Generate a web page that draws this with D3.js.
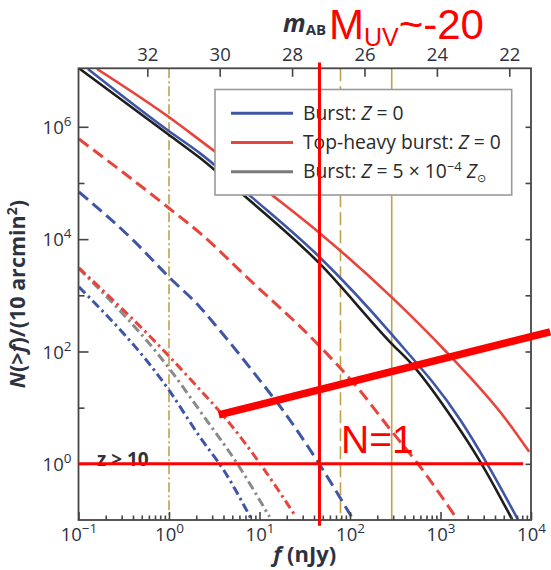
<!DOCTYPE html>
<html><head><meta charset="utf-8">
<script src="https://cdn.jsdelivr.net/npm/d3@7"></script>
<style>body{margin:0;background:#fff} svg{display:block}</style>
</head><body>
<script>
// ---------- data ----------
const fluxTicks = [0.1, 1, 10, 100, 1000, 10000];          // nJy
const countTicks = [1, 10, 100, 1e3, 1e4, 1e5, 1e6];
const countLabels = [1, 100, 1e4, 1e6];
const magTicks = [32, 30, 28, 26, 24, 22];                  // m_AB
const magZeroPoint = 31.4;                                  // m_AB of 1 nJy

// solid curves
const burstZ0_f   = [0.127, 0.995, 2.19, 8.2, 46, 286, 1650, 3280, 7210];
const burstZ0_N   = [1.07e7, 8.4e5, 3.4e5, 5.6e4, 4.8e3, 205, 6.1, 1.0, 0.10];
const topHeavy_f  = [0.16, 0.995, 2.19, 14.7, 46, 286, 1190, 5320, 9550];
const topHeavy_N  = [1.07e7, 1.49e6, 5.8e5, 5.6e4, 1.29e4, 937, 94, 6.1, 1.64];
const burstZ5_f   = [0.101, 0.995, 2.19, 6.5, 46, 286, 489, 1384, 2840, 6240];
const burstZ5_N   = [1.1e7, 7.2e5, 2.8e5, 6.3e4, 3.7e3, 140, 58, 6.1, 1.0, 0.10];
// dashed curves
const topHeavyDash_f = [0.101, 0.995, 2.19, 7.8, 42.7, 127, 286, 541, 1494];
const topHeavyDash_N = [6.07e5, 3.59e4, 1.29e4, 1880, 142, 20.7, 3.87, 1.09, 0.109];
const burstZ0Dash_f  = [0.101, 0.399, 0.995, 2.19, 3.46, 10.0, 18.0, 44.9, 104];
const burstZ0Dash_N  = [6.92e4, 9.68e3, 2.13e3, 622, 263, 31.2, 9.14, 1.04, 0.114];
// dash-dot curves
const topHeavyDD_f = [0.101, 0.995, 1.83, 4.35, 10.0, 24.4];
const topHeavyDD_N = [3076, 83.5, 28.8, 6.07, 1.04, 0.124];
const burstZ5DD_f  = [0.101, 0.995, 2.36, 5.6, 12.9];
const burstZ5DD_N  = [2990, 51.1, 7.45, 1.04, 0.114];
const burstZ0DD_f  = [0.101, 0.995, 2.19, 4.13, 8.19];
const burstZ0DD_N  = [1410, 20.7, 3.02, 0.721, 0.101];

// survey depth lines (nJy)
const depthFlux = [1, 78.5, 289];
// annotations
const muvFlux = 46;            // M_UV ~ -20
const muvSpanN = [1.4e7, 0.079];
const unityN = 1;
const unitySpanF = [0.1, 8185];
const trendF = [3.55, 16300];
const trendN = [7.45, 223];

// ---------- styling ----------
const BLUE = "#3f56a6", RED = "#e8443b", BLACK = "#1e1e1e", GRAY = "#8a8a8a", OLIVE = "#bfa24c";
const TXT = "#2d3240";
const FONT = "'Open Sans', 'Noto Sans', sans-serif";
const AFONT = "'Liberation Sans', Arial, sans-serif";

const W = 551, H = 570;
const X0 = 78.5, X1 = 531, Y0 = 68.3, Y1 = 520;

const svg = d3.select("body").append("svg").attr("width", W).attr("height", H)
  .style("font-family", FONT);

const x = d3.scaleLog().domain([0.1, 1e4]).range([X0, X1]);
const y = d3.scaleLog().domain([0.1, 1.1e7]).range([Y1, Y0]);
const mAt = f => magZeroPoint - 2.5 * Math.log10(f);
const xTop = d3.scaleLinear().domain([mAt(0.1), mAt(1e4)]).range([X0, X1]);

svg.append("clipPath").attr("id", "plot").append("rect")
  .attr("x", X0).attr("y", Y0).attr("width", X1 - X0).attr("height", Y1 - Y0);

// depth lines
const depthDash = ["10,3,2,3", "13,5", null];
const gDepth = svg.append("g");
depthFlux.forEach((f, i) => {
  gDepth.append("line").attr("x1", x(f)).attr("x2", x(f)).attr("y1", Y0).attr("y2", Y1)
    .attr("stroke", OLIVE).attr("stroke-width", 1.6)
    .attr("stroke-dasharray", depthDash[i]);
});

// curves
const line = d3.line().x(d => x(d[0])).y(d => y(d[1])).curve(d3.curveMonotoneX);
const series = [
  {f: burstZ0Dash_f, N: burstZ0Dash_N, c: BLUE, w: 3, d: "12,6"},
  {f: topHeavyDash_f, N: topHeavyDash_N, c: RED, w: 3, d: "12,6"},
  {f: burstZ0DD_f, N: burstZ0DD_N, c: BLUE, w: 3, d: "9,4,2.5,4"},
  {f: burstZ5DD_f, N: burstZ5DD_N, c: GRAY, w: 3, d: "9,4,2.5,4"},
  {f: topHeavyDD_f, N: topHeavyDD_N, c: RED, w: 3, d: "9,4,2.5,4"},
  {f: topHeavy_f, N: topHeavy_N, c: RED, w: 2.6, d: null},
  {f: burstZ0_f, N: burstZ0_N, c: BLUE, w: 2.6, d: null},
  {f: burstZ5_f, N: burstZ5_N, c: BLACK, w: 2.6, d: null},
];
const gCurves = svg.append("g").attr("clip-path", "url(#plot)");
series.forEach(s => {
  gCurves.append("path").datum(s.f.map((f, i) => [f, s.N[i]]))
    .attr("d", line).attr("fill", "none").attr("stroke", s.c)
    .attr("stroke-width", s.w).attr("stroke-dasharray", s.d);
});

// legend
const leg = svg.append("g");
leg.append("rect").attr("x", 215).attr("y", 89.5).attr("width", 296.7).attr("height", 105.5)
  .attr("fill", "#fff").attr("stroke", "#9a9a9a").attr("stroke-width", 1.6);
const legItems = [
  {c: BLUE, parts: [["Burst: "], ["Z", "i"], [" = 0"]]},
  {c: RED, parts: [["Top-heavy burst: "], ["Z", "i"], [" = 0"]]},
  {c: "#7a7a7a", parts: [["Burst: "], ["Z", "i"], [" = 5 × 10"], ["−4", "sup"], [" "], ["Z", "i2"], ["⊙", "sub"]]},
];
legItems.forEach((it, i) => {
  const yy = 113.3 + i * 29.2;
  leg.append("line").attr("x1", 231).attr("x2", 293).attr("y1", yy).attr("y2", yy)
    .attr("stroke", it.c).attr("stroke-width", 3);
  const t = leg.append("text").attr("x", 303).attr("y", yy + 6.5)
    .attr("font-size", 19.3).attr("fill", "#2a2a2a");
  it.parts.forEach(p => {
    const ts = t.append("tspan").text(p[0]);
    if (p[1] === "i" || p[1] === "i2") ts.attr("font-style", "italic");
    if (p[1] === "i2") ts.attr("dy", 7);
    if (p[1] === "sup") ts.attr("font-size", 13).attr("dy", -7);
    if (p[1] === "sub") ts.attr("font-size", 11).attr("dy", 4);
  });
});

// axes
function supLabel(sel, exps) {
  sel.each(function(d, i) {
    const t = d3.select(this); t.text(null);
    t.append("tspan").text("10");
    t.append("tspan").attr("dy", -8).attr("font-size", 13.5).text(exps[i]);
  });
}
const axStyle = g => {
  g.select(".domain").remove();
  g.selectAll(".tick line").attr("stroke", "#444").attr("stroke-width", 1.6);
  g.selectAll("text").attr("fill", TXT).style("font-family", FONT).attr("font-size", 18.5);
};
// bottom major
const gB = svg.append("g").attr("transform", `translate(0,${Y1})`)
  .call(d3.axisBottom(x).tickValues(fluxTicks).tickSizeInner(-8).tickSizeOuter(0).tickPadding(0))
  .call(axStyle);
gB.selectAll("text").attr("y", 21).attr("dy", null)
  .call(supLabel, fluxTicks.map(v => String(Math.round(Math.log10(v))).replace("-", "−")));
// bottom minor
const minor = [];
fluxTicks.slice(0, -1).forEach(v => { for (let k = 2; k < 10; k++) minor.push(v * k); });
svg.append("g").attr("transform", `translate(0,${Y1})`)
  .call(d3.axisBottom(x).tickValues(minor).tickSizeInner(-4.5).tickSizeOuter(0).tickFormat(""))
  .call(axStyle);
// top magnitude axis
svg.append("g").attr("transform", `translate(0,${Y0})`)
  .call(d3.axisTop(xTop).tickValues(magTicks).tickSizeInner(-8.5).tickSizeOuter(0).tickPadding(7).tickFormat(d3.format("d")))
  .call(axStyle);
// left
const gL = svg.append("g").attr("transform", `translate(${X0},0)`)
  .call(d3.axisLeft(y).tickValues(countLabels).tickSizeInner(-10).tickSizeOuter(0).tickPadding(7))
  .call(axStyle);
gL.selectAll("text").attr("dy", "0.36em")
  .call(supLabel, countLabels.map(v => String(Math.round(Math.log10(v)))));
svg.append("g").attr("transform", `translate(${X0},0)`)
  .call(d3.axisLeft(y).tickValues(countTicks.filter(v => !countLabels.includes(v))).tickSizeInner(-6).tickSizeOuter(0).tickFormat(""))
  .call(axStyle);
// right
svg.append("g").attr("transform", `translate(${X1},0)`)
  .call(d3.axisRight(y).tickValues(countTicks).tickSizeInner(-5.5).tickSizeOuter(0).tickFormat(""))
  .call(axStyle);
// frame
svg.append("rect").attr("x", X0).attr("y", Y0).attr("width", X1 - X0).attr("height", Y1 - Y0)
  .attr("fill", "none").attr("stroke", "#454545").attr("stroke-width", 1.8);

// axis titles
const xt = svg.append("text").attr("x", (X0 + X1) / 2).attr("y", 562).attr("text-anchor", "middle")
  .attr("font-size", 22).attr("font-weight", "bold").attr("fill", TXT);
xt.append("tspan").attr("font-style", "italic").text("f");
xt.append("tspan").text(" (nJy)");

const yt = svg.append("text").attr("transform", `translate(25,${(Y0 + Y1) / 2}) rotate(-90)`)
  .attr("text-anchor", "middle").attr("font-size", 21.5).attr("font-weight", "bold").attr("fill", TXT);
yt.append("tspan").attr("font-style", "italic").text("N");
yt.append("tspan").text("(>");
yt.append("tspan").attr("font-style", "italic").text("f");
yt.append("tspan").text(")/(10 arcmin");
yt.append("tspan").attr("font-size", 14).attr("dy", -8).text("2");
yt.append("tspan").attr("dy", 8).text(")");

const mt = svg.append("text").attr("x", 283).attr("y", 32).attr("fill", TXT).attr("font-weight", "bold");
mt.append("tspan").attr("font-size", 25).attr("font-style", "italic").text("m");
mt.append("tspan").attr("font-size", 15).attr("dy", 3).text("AB");

// z > 10
svg.append("text").attr("x", 97).attr("y", 466).attr("font-size", 19).attr("font-weight", "bold")
  .attr("fill", "#333").text("z > 10");

// red annotations
const ann = svg.append("g").attr("stroke", "#ff0000").attr("fill", "none");
ann.append("line").attr("x1", x(unitySpanF[0])).attr("x2", x(unitySpanF[1]))
  .attr("y1", y(unityN)).attr("y2", y(unityN)).attr("stroke-width", 3);
ann.append("line").attr("x1", x(muvFlux)).attr("x2", x(muvFlux))
  .attr("y1", y(muvSpanN[0])).attr("y2", y(muvSpanN[1])).attr("stroke-width", 3);
ann.append("line").attr("x1", x(trendF[0])).attr("x2", x(trendF[1]))
  .attr("y1", y(trendN[0])).attr("y2", y(trendN[1])).attr("stroke-width", 7.5);

const mu = svg.append("text").attr("x", 329).attr("y", 39).attr("fill", "#ff0000")
  .style("font-family", AFONT).attr("font-size", 42);
mu.append("tspan").text("M");
mu.append("tspan").attr("font-size", 25).attr("dy", 7).text("UV");
mu.append("tspan").attr("dy", -7).text("~-20");

svg.append("text").attr("x", 341).attr("y", 453).attr("fill", "#ff0000")
  .style("font-family", AFONT).attr("font-size", 39).text("N=1");
</script>
</body></html>
